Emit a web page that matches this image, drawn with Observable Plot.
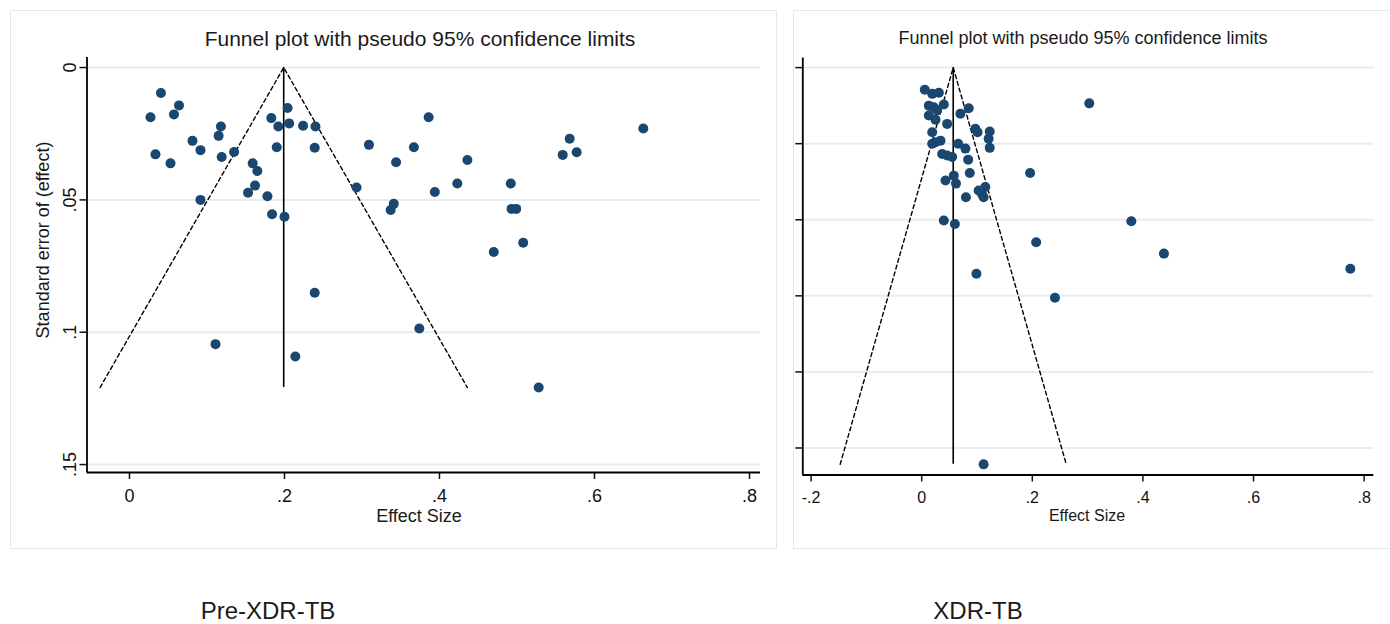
<!DOCTYPE html>
<html><head><meta charset="utf-8">
<script src="https://cdn.jsdelivr.net/npm/d3@7"></script>
<script src="https://cdn.jsdelivr.net/npm/@observablehq/plot@0.6"></script>
<style>
body{margin:0;background:#fff;font-family:"Liberation Sans",Arial,sans-serif;}
#root{position:relative;width:1390px;height:624px;overflow:hidden;background:#fff;}
.panel{position:absolute;border:1.5px solid #e2eaee;box-sizing:border-box;}
.plot{position:absolute;}
.abs{position:absolute;white-space:nowrap;color:#1a1a1a;transform:translate(-50%,-50%);line-height:1;}
</style></head><body><div id="root"></div><script>
// ---- Pre-XDR-TB panel data ----
const preEffect = [0.0406,0.0639,0.0574,0.0271,0.0813,0.0916,0.0335,0.0529,0.118,0.115,0.119,0.135,0.0916,0.159,0.165,0.153,0.162,0.178,0.184,0.200,0.183,0.192,0.204,0.206,0.190,0.224,0.240,0.239,0.293,0.309,0.344,0.367,0.386,0.337,0.341,0.394,0.436,0.423,0.492,0.493,0.499,0.508,0.470,0.559,0.568,0.577,0.663,0.239,0.374,0.111,0.214,0.528];
const preSE     = [0.0096,0.0143,0.0177,0.0188,0.0277,0.0312,0.0328,0.0362,0.0223,0.0258,0.0338,0.0319,0.0500,0.0362,0.0391,0.0473,0.0446,0.0486,0.0554,0.0564,0.0191,0.0223,0.0153,0.0211,0.0301,0.0220,0.0223,0.0303,0.0453,0.0292,0.0358,0.0301,0.0188,0.0538,0.0515,0.0470,0.0349,0.0438,0.0438,0.0534,0.0534,0.0662,0.0697,0.0330,0.0269,0.0320,0.0230,0.0851,0.0986,0.1045,0.1092,0.1209];
const prePooled = 0.199;
const preXTicks = [0,0.2,0.4,0.6,0.8];
const preYTicks = [0,0.05,0.1,0.15];

// ---- XDR-TB panel data ----
const xdrEffect = [0.0056,0.019,0.031,0.0129,0.0219,0.040,0.028,0.0129,0.025,0.046,0.019,0.025,0.034,0.019,0.037,0.046,0.055,0.070,0.085,0.097,0.101,0.123,0.121,0.123,0.066,0.079,0.084,0.087,0.043,0.058,0.062,0.080,0.103,0.109,0.115,0.112,0.040,0.060,0.207,0.099,0.196,0.303,0.379,0.438,0.775,0.241,0.112];
const xdrSE     = [0.0058,0.0069,0.0066,0.0100,0.0104,0.0097,0.0113,0.0126,0.0137,0.0148,0.0170,0.0196,0.0192,0.0200,0.0227,0.0231,0.0235,0.0121,0.0107,0.0161,0.0170,0.0168,0.0187,0.0211,0.0200,0.0213,0.0242,0.0277,0.0297,0.0284,0.0305,0.0341,0.0323,0.0332,0.0314,0.0341,0.0402,0.0411,0.0459,0.0542,0.0277,0.0094,0.0404,0.0489,0.0529,0.0605,0.1043];
const xdrPooled = 0.057;
const xdrXTicks = [-0.2,0,0.2,0.4,0.6,0.8];
const xdrYTicks = [0,0.02,0.04,0.06,0.08,0.1];

const titleText = "Funnel plot with pseudo 95% confidence limits";
const xTitle = "Effect Size";
const yTitle = "Standard error of (effect)";
const panelNames = ["Pre-XDR-TB", "XDR-TB"];

const navy = "#1a476f";
const gridColor = "#e4edf1";
const fmt = d => { if (Math.abs(d) < 1e-12) return "0"; return String(+d.toFixed(3)).replace("0.", "."); };

function funnel(effect, se, pooled, opts) {
  const data = effect.map((e, i) => ({effect: e, se: se[i]}));
  const maxSE = d3.max(se);
  const limits = [
    {x: pooled - 1.96 * maxSE, y: maxSE},
    {x: pooled, y: 0},
    {x: pooled + 1.96 * maxSE, y: maxSE}
  ];
  return Plot.plot({
    width: opts.width, height: opts.height,
    marginLeft: opts.ml, marginRight: opts.mr, marginTop: opts.mt, marginBottom: opts.mb,
    x: {domain: opts.xDomain},
    y: {domain: opts.yDomain, reverse: true},
    style: {fontFamily: '"Liberation Sans", Arial, sans-serif', fontSize: opts.fs + "px", color: "#111", background: "transparent", overflow: "visible"},
    marks: [
      Plot.ruleY(opts.yTicks, {stroke: gridColor, strokeWidth: 2}),
      Plot.line(limits, {x: "x", y: "y", stroke: "#000", strokeWidth: 1.4, strokeDasharray: "4,3"}),
      Plot.ruleX([pooled], {y1: 0, y2: maxSE, stroke: "#000", strokeWidth: 1.6}),
      Plot.dot(data, {x: "effect", y: "se", r: 5, fill: navy, stroke: null}),
      Plot.axisX({ticks: opts.xTicks, tickFormat: fmt, tickSize: 7, tickPadding: 10, label: null, fontSize: opts.fs, strokeWidth: 1.5}),
      Plot.axisY({ticks: opts.yTicks, tickFormat: opts.yLabels ? fmt : () => "", tickSize: 7, tickRotate: -90, tickPadding: 4, label: null, fontSize: opts.fs, strokeWidth: 1.5}),
      Plot.ruleX([opts.xDomain[0]], {stroke: "#000", strokeWidth: 1.8}),
      Plot.ruleY([opts.yDomain[1]], {stroke: "#000", strokeWidth: 1.8})
    ]
  });
}

const root = document.getElementById("root");
function addDiv(cls, css, text) {
  const d = document.createElement("div");
  d.className = cls;
  Object.assign(d.style, css);
  if (text != null) d.textContent = text;
  root.appendChild(d);
  return d;
}

// panel frames
addDiv("panel", {left: "10px", top: "10px", width: "767px", height: "539px"});
addDiv("panel", {left: "793px", top: "10px", width: "600px", height: "539px"});

// left plot
const p1 = funnel(preEffect, preSE, prePooled, {
  width: 766, height: 539, ml: 76.5, mr: 16, mt: 47, mb: 77,
  xDomain: [-0.0548, 0.8142], yDomain: [-0.0038, 0.153],
  xTicks: preXTicks, yTicks: preYTicks, yLabels: true, fs: 18
});
const w1 = addDiv("plot", {left: "10px", top: "10px"});
w1.appendChild(p1);

// right plot
const p2 = funnel(xdrEffect, xdrSE, xdrPooled, {
  width: 594, height: 539, ml: 8.3, mr: 14.7, mt: 47.4, mb: 74.5,
  xDomain: [-0.215, 0.8175], yDomain: [-0.00255, 0.1071],
  xTicks: xdrXTicks, yTicks: xdrYTicks, yLabels: false, fs: 16
});
const w2 = addDiv("plot", {left: "794px", top: "10px"});
w2.appendChild(p2);

// titles
addDiv("abs", {left: "420px", top: "38px", fontSize: "21px"}, titleText);
addDiv("abs", {left: "1083px", top: "38px", fontSize: "18px"}, titleText);
addDiv("abs", {left: "419px", top: "516px", fontSize: "18px"}, xTitle);
addDiv("abs", {left: "1087px", top: "516px", fontSize: "16px"}, xTitle);
addDiv("abs", {left: "43px", top: "240px", fontSize: "18px", transform: "translate(-50%,-50%) rotate(-90deg)"}, yTitle);
addDiv("abs", {left: "268px", top: "611px", fontSize: "24px"}, panelNames[0]);
addDiv("abs", {left: "978px", top: "611px", fontSize: "24px"}, panelNames[1]);
</script></body></html>
